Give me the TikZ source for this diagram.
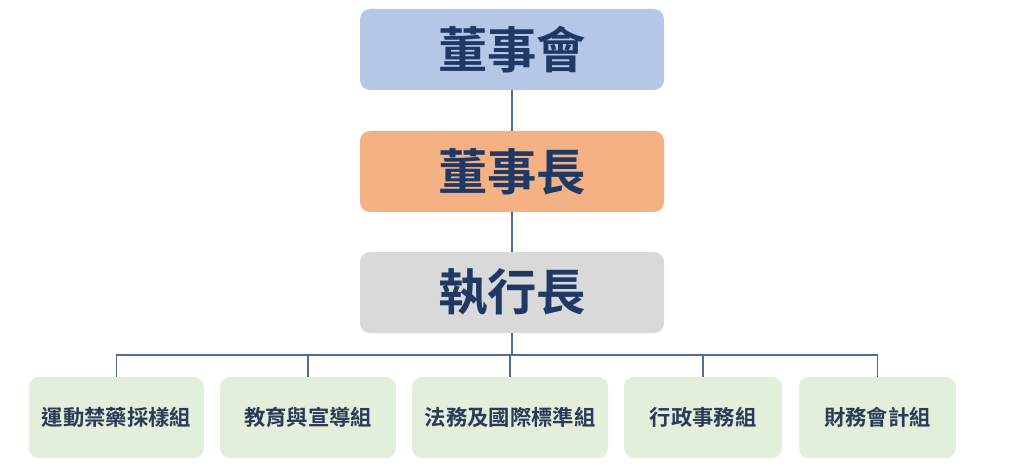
\documentclass[tikz,border=0pt]{standalone}
\usepackage{fontspec}
\newfontfamily\cjk{Noto Sans CJK TC}[BoldFont={* Bold}]
\definecolor{bluebox}{HTML}{B4C7E7}
\definecolor{orangebox}{HTML}{F4B183}
\definecolor{graybox}{HTML}{D9D9D9}
\definecolor{greenbox}{HTML}{E2EFDA}
\definecolor{navytext}{HTML}{1F3864}
\definecolor{grouptext}{HTML}{2B3A58}
\definecolor{linecol}{HTML}{4F6F9A}
\begin{document}
\begin{tikzpicture}[x=0.75pt,y=-0.75pt,
  topbox/.style={rounded corners=7.5pt, minimum width=228pt, minimum height=60.75pt, inner sep=0pt,
     font=\cjk\bfseries\fontsize{37}{40}\selectfont, text=navytext},
  groupbox/.style={rounded corners=7.5pt, minimum height=60.75pt, inner sep=0pt, fill=greenbox,
     font=\cjk\bfseries\fontsize{16}{18}\selectfont, text=grouptext},
  conn/.style={draw=linecol, line width=0.9pt}]
\useasboundingbox[fill=white] (0,0) rectangle (1024,474);
\node[topbox, fill=bluebox] (board) at (512,49.5) {董事會};
\node[topbox, fill=orangebox] (chair) at (512,171.5) {董事長};
\node[topbox, fill=graybox] (ceo) at (512,292.5) {執行長};
\node[groupbox, minimum width=131.25pt] (g1) at (116.5,417.5) {運動禁藥採樣組};
\node[groupbox, minimum width=132pt] (g2) at (308,417.5) {教育與宣導組};
\node[groupbox, minimum width=147pt] (g3) at (510,417.5) {法務及國際標準組};
\node[groupbox, minimum width=118.5pt] (g4) at (703,417.5) {行政事務組};
\node[groupbox, minimum width=117.75pt] (g5) at (877.5,417.5) {財務會計組};
\coordinate (hb) at (512,355);
\draw[conn] (board.south) -- (chair.north);
\draw[conn] (chair.south) -- (ceo.north);
\draw[conn] (ceo.south) -- (hb);
\draw[conn] (g1.north) |- (hb);
\draw[conn] (g5.north) |- (hb);
\draw[conn] (g2.north) -- (g2.north |- hb);
\draw[conn] (g3.north) -- (g3.north |- hb);
\draw[conn] (g4.north) -- (g4.north |- hb);
\end{tikzpicture}
\end{document}
